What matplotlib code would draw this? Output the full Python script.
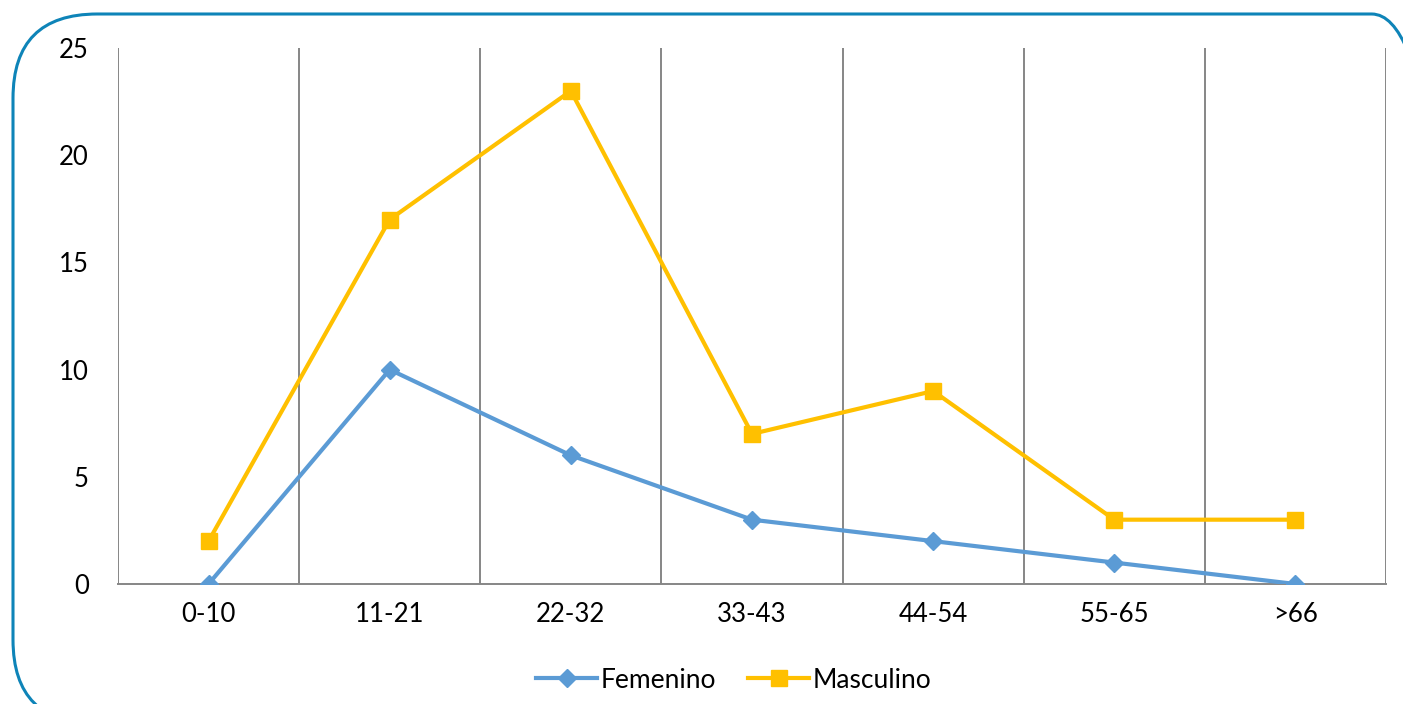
import numpy as np
import matplotlib.pyplot as plt
from matplotlib.patches import FancyBboxPatch

categorias = ['0-10', '11-21', '22-32', '33-43', '44-54', '55-65', '>66']
femenino = [0, 10, 6, 3, 2, 1, 0]
masculino = [2, 17, 23, 7, 9, 3, 3]

plt.rcParams['font.family'] = ['Lato', 'DejaVu Sans']

W, H = 1403, 704
fig = plt.figure(figsize=(W / 100, H / 100), dpi=100)
ax = fig.add_axes([118 / W, 1 - 584 / H, (1386 - 118) / W, (584 - 48) / H])

x = np.arange(len(categorias))
ax.plot(x, femenino, color='#5b9bd5', lw=3, marker='D', ms=9, label='Femenino', zorder=3)
ax.plot(x, masculino, color='#ffc000', lw=3, marker='s', ms=11.5, label='Masculino', zorder=3)

ax.set_xlim(-0.5, len(categorias) - 0.5)
ax.set_ylim(0, 25)
ax.set_yticks(range(0, 26, 5))
ax.set_xticks(x)
ax.set_xticklabels(categorias)
ax.tick_params(length=0, labelsize=18.5, colors='black')
ax.tick_params(axis='y', pad=21)
ax.tick_params(axis='x', pad=13)
for b in np.arange(-0.5, len(categorias), 1):
    ax.axvline(b, color='#868686', lw=1.4, zorder=1)
for s in ['top', 'right', 'left']:
    ax.spines[s].set_visible(False)
ax.spines['bottom'].set_color('#868686')
ax.spines['bottom'].set_linewidth(1.4)

fig.legend(loc='center', bbox_to_anchor=(734 / W, 1 - 680 / H), ncol=2, frameon=False,
           fontsize=19, handlelength=2.3, handletextpad=0.15, columnspacing=1.2)

box = FancyBboxPatch((13 / W, -20 / H), (W + 40) / W, (H - 14 + 20) / H,
                     boxstyle='round,pad=0,rounding_size=0.06', transform=fig.transFigure,
                     fill=False, edgecolor='#0e84b8', lw=2.2, mutation_aspect=W / H)
fig.patches.append(box)

fig.savefig('out.png', dpi=100)
